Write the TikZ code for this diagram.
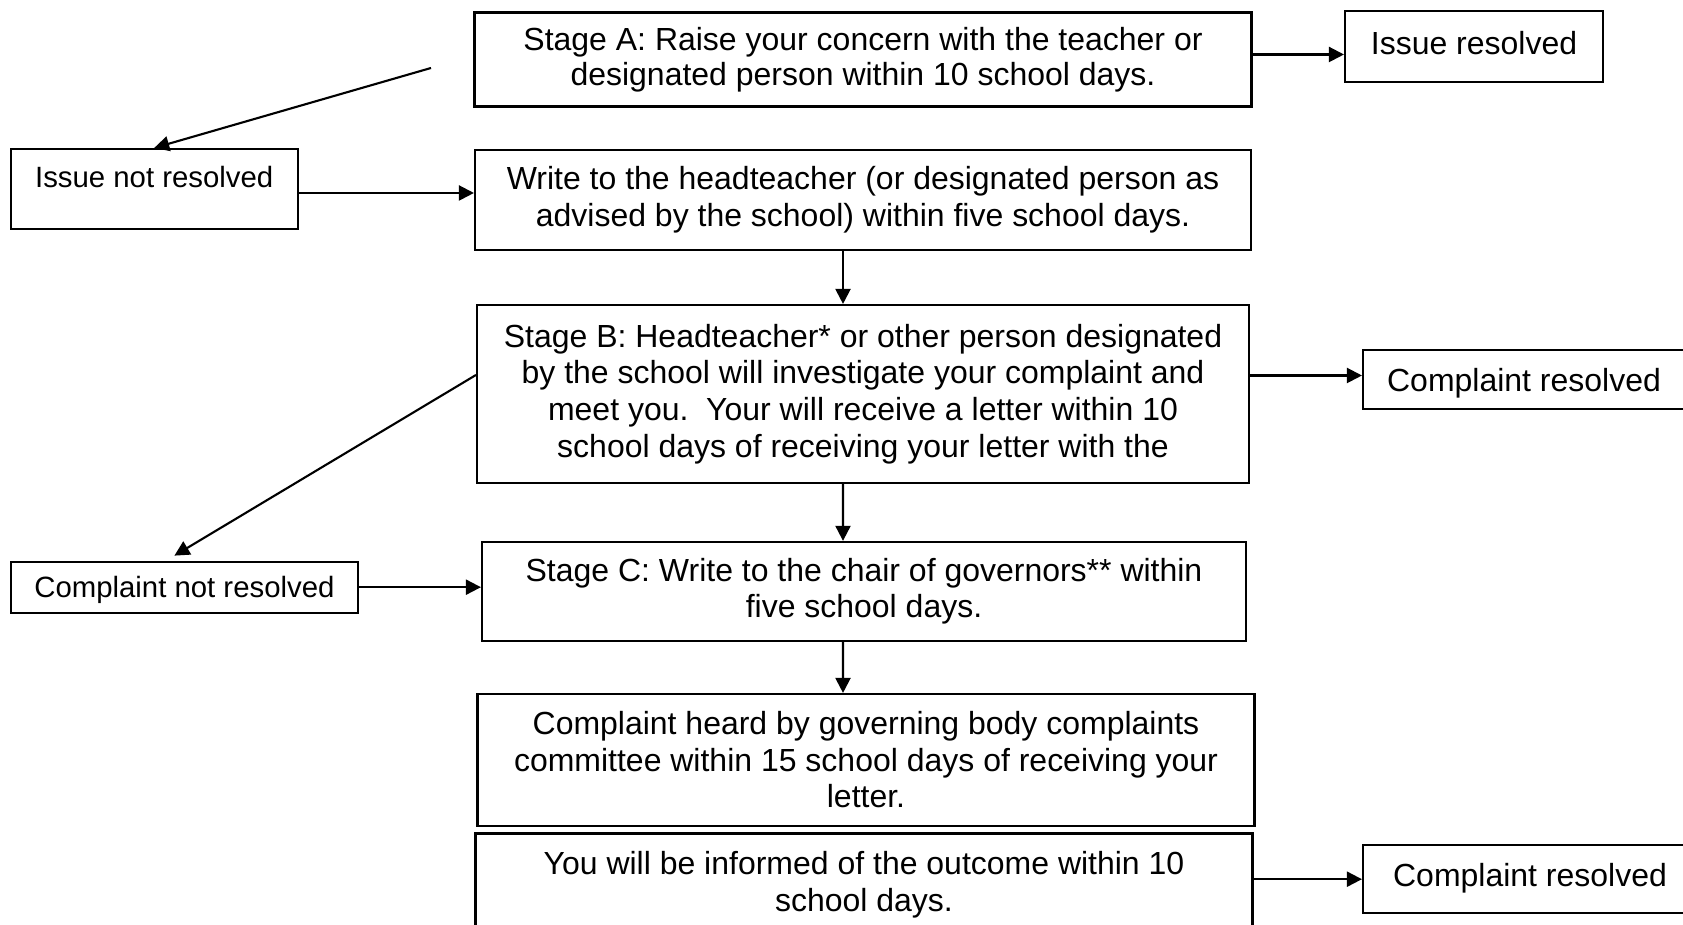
\documentclass[tikz,border=0pt]{standalone}
\usepackage{fontspec}
\setmainfont{Liberation Sans}
\usetikzlibrary{arrows.meta}

\tikzset{
  stagebox/.style={draw, rectangle, fill=white, align=center, inner sep=0pt, line width=0.6pt},
  smalltext/.style={font=\fontsize{8.35pt}{9.5pt}\selectfont},
  arr/.style={line width=0.6pt, -{Triangle[length=0.15cm,width=0.15cm]}}
}

\begin{document}
\begin{tikzpicture}[font=\fontsize{9.1pt}{10.4pt}\selectfont]
\path[use as bounding box] (0,0) rectangle (16.83,-9.25);
\clip (0,0) rectangle (16.83,-9.25);
\fill[white] (0,0) rectangle (16.83,-9.25);

% Stages
\node[stagebox, minimum width=7.77cm, minimum height=0.94cm, font=\fontsize{9.1pt}{9.9pt}\selectfont] (stagea) at (8.63,-0.595) {Stage A: Raise your concern with the teacher or\\designated person within 10 school days.};
\node[stagebox, minimum width=7.76cm, minimum height=1.00cm] (write) at (8.63,-2.00) {Write to the headteacher (or designated person as\\advised by the school) within five school days.};
\node[stagebox, minimum width=7.72cm, minimum height=1.78cm] (stageb) at (8.63,-3.94) {Stage B: Headteacher* or other person designated\\by the school will investigate your complaint and\\meet you.\ \ Your will receive a letter within 10\\school days of receiving your letter with the};
\node[stagebox, minimum width=7.64cm, minimum height=0.99cm] (stagec) at (8.64,-5.914) {Stage C: Write to the chair of governors** within\\five school days.};
\node[stagebox, minimum width=7.77cm, minimum height=1.32cm] (heard) at (8.66,-7.60) {Complaint heard by governing body complaints\\committee within 15 school days of receiving your\\letter.};
\node[stagebox, minimum width=7.77cm, minimum height=1.03cm] (informed) at (8.64,-8.85) {You will be informed of the outcome within 10\\school days.};

% Outcomes
\node[stagebox, minimum width=2.58cm, minimum height=0.71cm, text depth=0.07cm] (ir) at (14.74,-0.464) {Issue resolved};
\node[stagebox, smalltext, minimum width=2.87cm, minimum height=0.80cm, text depth=0.25cm] (inr) at (1.542,-1.89) {Issue not resolved};
\node[stagebox, minimum width=3.22cm, minimum height=0.59cm, text depth=0pt] (cr1) at (15.24,-3.795) {Complaint resolved};
\node[stagebox, smalltext, minimum width=3.47cm, minimum height=0.51cm, text depth=0pt] (cnr) at (1.844,-5.872) {Complaint not resolved};
\node[stagebox, minimum width=3.34cm, minimum height=0.68cm, text depth=0.08cm] (cr2) at (15.30,-8.792) {Complaint resolved};

% Arrows
\coordinate (start) at (4.31,-0.68);
\draw[arr] ([yshift=0.05cm]stagea.east) -- ([yshift=0.05cm]stagea.east -| ir.west);
\draw[arr] (start) -- (inr.north);
\draw[arr] ([yshift=-0.04cm]inr.east) -- ([yshift=-0.04cm]inr.east -| write.west);
\draw[arr] ([xshift=-0.2cm]write.south) -- ([xshift=-0.2cm]stageb.north);
\draw[arr] ([yshift=0.04cm]cr1.west -| stageb.east) -- ([yshift=0.04cm]cr1.west);
\draw[arr] ([yshift=0.19cm]stageb.west) -- ([xshift=-0.1cm,yshift=0.05cm]cnr.north);
\draw[arr] ([xshift=-0.2cm]stageb.south) -- ([xshift=-0.21cm]stagec.north);
\draw[arr] (cnr.east) -- (cnr.east -| stagec.west);
\draw[arr] ([xshift=-0.21cm]stagec.south) -- ([xshift=-0.23cm]heard.north);
\draw[arr] (cr2.west -| informed.east) -- (cr2.west);
\end{tikzpicture}
\end{document}
